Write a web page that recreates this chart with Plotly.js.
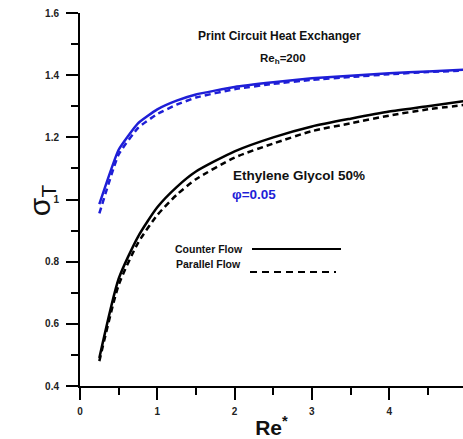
<!DOCTYPE html>
<html>
<head>
<meta charset="utf-8">
<script src="https://cdn.plot.ly/plotly-3.0.1.min.js"></script>
<style>html,body{margin:0;padding:0;background:#fff;}#chart{width:463px;height:439px;}</style>
</head>
<body>
<div id="chart"></div>
<script>
const reStar = [0.25, 0.5, 0.75, 1.0, 1.25, 1.5, 2.0, 2.5, 3.0, 3.5, 4.0, 4.5, 5.0];
const blueCounter  = [0.985, 1.16, 1.245, 1.29, 1.318, 1.338, 1.362, 1.377, 1.39, 1.398, 1.406, 1.412, 1.418];
const blueParallel = [0.955, 1.145, 1.23, 1.275, 1.305, 1.328, 1.355, 1.372, 1.385, 1.394, 1.403, 1.41, 1.415];
const blackCounter = [0.49, 0.745, 0.88, 0.975, 1.04, 1.09, 1.155, 1.20, 1.235, 1.26, 1.283, 1.30, 1.318];
const blackParallel= [0.48, 0.725, 0.86, 0.95, 1.015, 1.065, 1.135, 1.18, 1.22, 1.245, 1.27, 1.29, 1.305];
const yTicks = [0.4, 0.6, 0.8, 1.0, 1.2, 1.4, 1.6];
const xTicks = [0, 1, 2, 3, 4];

const BLUE = 'rgb(30,30,215)';
const W = 463, H = 439, L = 80, T = 13, B = 53;
const pw = W - L, ph = H - T - B;
const px = v => (v - L) / pw;
const py = v => (H - B - v) / ph;

const traces = [
  {x: reStar, y: blueCounter, mode: 'lines', line: {color: BLUE, width: 2.5, shape: 'spline', smoothing: 0.4}},
  {x: reStar, y: blueParallel, mode: 'lines', line: {color: BLUE, width: 2.5, dash: '6px,4px', shape: 'spline', smoothing: 0.4}},
  {x: reStar, y: blackCounter, mode: 'lines', line: {color: 'black', width: 2.5, shape: 'spline', smoothing: 0.6}},
  {x: reStar, y: blackParallel, mode: 'lines', line: {color: 'black', width: 2.5, dash: '6px,4px', shape: 'spline', smoothing: 0.6}}
];

const font = {family: 'Liberation Sans, Arial, sans-serif', color: '#111'};
const layout = {
  width: W, height: H,
  margin: {l: L, r: 0, t: T, b: B},
  showlegend: false,
  paper_bgcolor: 'white', plot_bgcolor: 'white',
  font: font,
  xaxis: {
    range: [0, (W - L) / 77.3], showgrid: false, zeroline: false,
    showline: true, linecolor: 'black', linewidth: 2,
    tickvals: xTicks, ticks: 'outside', ticklen: 12, tickwidth: 2, tickcolor: 'black', ticklabelstandoff: 3,
    tickfont: {family: font.family, size: 10, color: '#222', weight: 'bold'},
    minor: {dtick: 0.5, ticks: 'outside', ticklen: 7, tickwidth: 2, tickcolor: 'black'},
    title: {text: 'Re<sup>*</sup>', font: {family: font.family, size: 21, color: '#111', weight: 'bold'}, standoff: 4}
  },
  yaxis: {
    range: [0.4, 1.6], showgrid: false, zeroline: false,
    showline: true, linecolor: 'black', linewidth: 2,
    tickvals: yTicks, ticktext: yTicks.map(v => String(v)), ticks: 'outside', ticklen: 12, tickwidth: 2, tickcolor: 'black',
    ticklabelstandoff: 5,
    tickfont: {family: font.family, size: 10, color: '#222', weight: 'bold'},
    minor: {dtick: 0.1, ticks: 'outside', ticklen: 7, tickwidth: 2, tickcolor: 'black'}
  },
  annotations: [
    {xref: 'paper', yref: 'paper', x: -0.155, y: py(200), text: 'σ<sub>T</sub>', showarrow: false,
     textangle: -90, font: {family: font.family, size: 30, color: '#111'}},
    {xref: 'paper', yref: 'paper', x: px(279), y: py(27), text: 'Print Circuit Heat Exchanger', showarrow: false,
     font: {family: font.family, size: 12, color: '#111', weight: 'bold'}},
    {xref: 'paper', yref: 'paper', x: px(283), y: py(50), text: 'Re<sub>h</sub>=200', showarrow: false,
     font: {family: font.family, size: 11.5, color: '#111', weight: 'bold'}},
    {xref: 'paper', yref: 'paper', x: px(231), y: py(176), xanchor: 'left', text: 'Ethylene Glycol 50%', showarrow: false,
     font: {family: font.family, size: 13.5, color: '#111', weight: 'bold'}},
    {xref: 'paper', yref: 'paper', x: px(230), y: py(194), xanchor: 'left', text: 'φ=0.05', showarrow: false,
     font: {family: font.family, size: 13.5, color: BLUE, weight: 'bold'}},
    {xref: 'paper', yref: 'paper', x: px(245), y: py(249), xanchor: 'right', text: 'Counter Flow', showarrow: false,
     font: {family: font.family, size: 10.5, color: '#111', weight: 'bold'}},
    {xref: 'paper', yref: 'paper', x: px(243), y: py(272), xanchor: 'right', text: 'Parallel Flow', showarrow: false,
     font: {family: font.family, size: 10.5, color: '#111', weight: 'bold'}}
  ],
  shapes: [
    {type: 'line', xref: 'paper', yref: 'paper', x0: px(252), x1: px(341), y0: py(249), y1: py(249), line: {color: 'black', width: 2}},
    {type: 'line', xref: 'paper', yref: 'paper', x0: px(250), x1: px(336), y0: py(272), y1: py(272), line: {color: 'black', width: 2, dash: '7px,5px'}}
  ]
};

Plotly.newPlot('chart', traces, layout, {displayModeBar: false, staticPlot: true});
</script>
</body>
</html>
